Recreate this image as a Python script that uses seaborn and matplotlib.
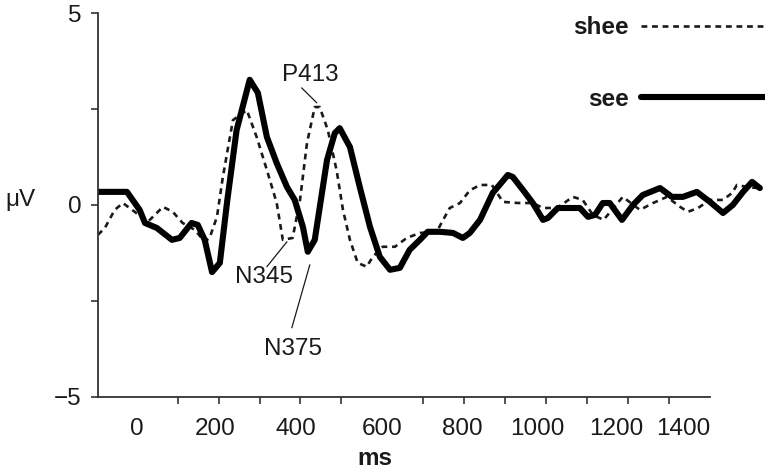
import matplotlib
matplotlib.use('Agg')
import matplotlib.pyplot as plt
from matplotlib.lines import Line2D
import seaborn as sns
import pandas as pd

# ERP waveforms (ms, microvolts)
see_ms = [-95, -24, 7, 20, 49, 86, 105, 134, 149, 166, 184, 203, 221, 244, 276, 296,
          318, 342, 367, 386, 406, 418, 435, 465, 484, 496, 521, 545, 570, 594, 619, 643,
          667, 692, 711, 741, 773, 797, 814, 839, 870, 907, 919, 944, 968, 993, 1005, 1029,
          1059, 1083, 1103, 1120, 1139, 1156, 1186, 1213, 1237, 1279, 1308, 1335, 1369,
          1401, 1433, 1457, 1482, 1504, 1523]
see_uv = [0.34, 0.34, -0.13, -0.47, -0.60, -0.91, -0.86, -0.47, -0.52, -0.91, -1.75, -1.51,
          0.1, 1.95, 3.26, 2.92, 1.77, 1.09, 0.47, 0.13, -0.57, -1.22, -0.91, 1.17, 1.87, 2.0,
          1.51, 0.47, -0.57, -1.35, -1.69, -1.64, -1.17, -0.91, -0.70, -0.70, -0.73, -0.86,
          -0.73, -0.39, 0.31, 0.78, 0.73, 0.39, 0.05, -0.39, -0.34, -0.08, -0.08, -0.08,
          -0.31, -0.26, 0.05, 0.05, -0.39, 0.0, 0.26, 0.44, 0.21, 0.21, 0.34, 0.08, -0.21,
          0.0, 0.34, 0.6, 0.44]

shee_ms = [-95, -78, -54, -34, -5, 27, 64, 88, 112, 142, 166, 178, 196, 210, 235, 269, 293,
           318, 342, 357, 381, 399, 416, 435, 447, 467, 489, 504, 521, 540, 562, 577, 601,
           631, 660, 692, 733, 753, 765, 790, 814, 839, 868, 895, 932, 968, 993, 1027, 1066,
           1090, 1115, 1141, 1188, 1230, 1262, 1296, 1328, 1347, 1372, 1401, 1433, 1455,
           1467, 1491, 1516]
shee_uv = [-0.78, -0.60, -0.13, 0.05, -0.18, -0.44, -0.05, -0.18, -0.47, -0.65, -0.96, -0.86,
           -0.31, 0.7, 2.21, 2.47, 1.77, 0.91, 0.05, -0.91, -0.86, 0.13, 1.61, 2.55, 2.55, 1.95,
           0.87, -0.13, -0.91, -1.51, -1.61, -1.35, -1.09, -1.09, -0.86, -0.73, -0.70, -0.31,
           -0.08, 0.05, 0.38, 0.52, 0.52, 0.08, 0.05, 0.05, -0.08, -0.08, 0.21, 0.13, -0.26,
           -0.39, 0.21, -0.13, 0.05, 0.21, -0.05, -0.18, -0.08, 0.13, 0.13, 0.31, 0.52, 0.47,
           0.44]

x_minor_ticks = list(range(0, 1400, 100))
x_tick_labels = ['0', '200', '400', '600', '800', '1000', '1200', '1400']
x_label_pos = [0, 192, 390, 600, 795, 980, 1172, 1335]
y_ticks = [-5, -2.5, 0, 2.5, 5]
y_tick_labels = ['\u22125', '', '0', '', '5']

sns.set_style('ticks')
plt.rcParams['font.family'] = ['Liberation Sans', 'DejaVu Sans']
ink = '#1a1a1a'

fig = plt.figure(figsize=(7.65, 4.73), dpi=100)
ax = fig.add_axes([0.128, 0.161, 0.869, 0.8115])

see_df = pd.DataFrame({'ms': see_ms, 'uV': see_uv})
shee_df = pd.DataFrame({'ms': shee_ms, 'uV': shee_uv})

sns.lineplot(data=shee_df, x='ms', y='uV', ax=ax, color=ink, linewidth=1.9,
             linestyle=(0, (2.2, 1.8)), sort=False)
sns.lineplot(data=see_df, x='ms', y='uV', ax=ax, color='black', linewidth=4.4,
             sort=False, solid_joinstyle='round')

ax.set_xlim(-95, 1530)
ax.set_ylim(-5, 5)

for side in ['top', 'right']:
    ax.spines[side].set_visible(False)
ax.spines['left'].set_bounds(-5, 5)
ax.spines['bottom'].set_bounds(-95, 1400)
for side in ['left', 'bottom']:
    ax.spines[side].set_color('#333333')
    ax.spines[side].set_linewidth(1.3)

ax.set_yticks(y_ticks)
ax.set_yticklabels(y_tick_labels)
ax.tick_params(axis='y', direction='out', length=5, width=1.2, color='#333333',
               labelsize=17.5, labelcolor=ink, pad=7)

ax.set_xticks(x_label_pos)
ax.set_xticklabels(x_tick_labels)
ax.set_xticks(x_minor_ticks, minor=True)
ax.tick_params(axis='x', which='major', length=0, pad=15, labelsize=17.5, labelcolor=ink)
ax.tick_params(axis='x', which='minor', direction='out', length=5, width=1.2, color='#333333')

ax.set_xlabel('ms', fontsize=17.5, fontweight='bold', color=ink, labelpad=6)
ax.xaxis.set_label_coords(0.4165, -0.13)
ax.set_ylabel('\u03bcV', fontsize=17.5, rotation=0, color=ink, ha='center', va='center')
ax.yaxis.set_label_coords(-0.117, 0.513)

# peak labels with leader lines
peak_notes = [('P413', (423, 3.39), (403, 3.05), (440, 2.66)),
              ('N345', (310, -1.875), (318, -1.61), (367, -0.96)),
              ('N375', (381, -3.75), (379, -3.2), (423, -1.56))]
for name, txt_xy, p0, p1 in peak_notes:
    ax.text(txt_xy[0], txt_xy[1], name, fontsize=17.5, color=ink, ha='center', va='center')
    ax.plot([p0[0], p1[0]], [p0[1], p1[1]], color=ink, linewidth=0.9)

handles = [Line2D([], [], color=ink, linewidth=1.9, linestyle=(0, (2.2, 1.8))),
           Line2D([], [], color='black', linewidth=4.4)]
leg = fig.legend(handles, ['shee', 'see'], loc='upper right', bbox_to_anchor=(1.0, 0.966),
                 frameon=False, markerfirst=False, handlelength=5.1, handletextpad=0.5,
                 labelspacing=2.0, borderpad=0, borderaxespad=0,
                 prop={'size': 17.5, 'weight': 'bold'})
for t in leg.get_texts():
    t.set_color(ink)

fig.savefig('out.png', dpi=100)
